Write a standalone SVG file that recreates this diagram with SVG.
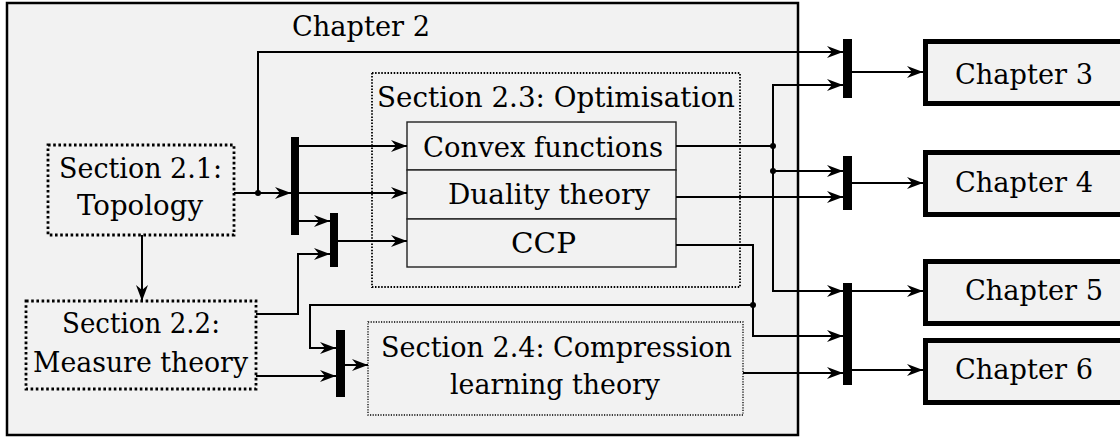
<svg xmlns="http://www.w3.org/2000/svg" width="1120" height="437" viewBox="0 0 1120 437">
  <style>
    text { font-family: "DejaVu Serif", serif; font-size: 28px; fill: #000; }
    .frame { fill: #f2f2f2; stroke: #000; stroke-width: 2.5; }
    .chapter { fill: #f2f2f2; stroke: #000; stroke-width: 5; }
    .sec-thick { fill: #f2f2f2; stroke: #000; stroke-width: 2.8; stroke-dasharray: 2.6 2.6; }
    .sec-mid { fill: #f2f2f2; stroke: #000; stroke-width: 1.8; stroke-dasharray: 1.5 1.6; }
    .sec-thin { fill: #f2f2f2; stroke: #000; stroke-width: 1.3; stroke-dasharray: 1.2 1.4; }
    .cell { fill: #f2f2f2; stroke: #222; stroke-width: 1.4; }
    .bar { fill: #000; }
    .wire { fill: none; stroke: #000; stroke-width: 2; }
    .arrow { fill: none; stroke: #000; stroke-width: 2; marker-end: url(#head); }
    .dot { fill: #000; }
  </style>
  <defs>
    <marker id="head" viewBox="-17 -7 18 14" refX="0" refY="0" markerWidth="18" markerHeight="14" markerUnits="userSpaceOnUse" orient="auto">
      <path d="M0,0 L-16,-6 L-11,0 L-16,6 Z" fill="#000"/>
    </marker>
  </defs>

  <!-- Chapter 2 frame -->
  <g id="chapter2">
    <rect class="frame" x="7" y="3" width="791" height="432"/>
    <text x="292" y="36" textLength="138" lengthAdjust="spacingAndGlyphs">Chapter 2</text>
  </g>

  <!-- Sections inside chapter 2 -->
  <g id="sec21">
    <rect class="sec-thick" x="48" y="145" width="186" height="90"/>
    <text x="59" y="178" textLength="163" lengthAdjust="spacingAndGlyphs">Section 2.1:</text>
    <text x="77" y="215" textLength="126" lengthAdjust="spacingAndGlyphs">Topology</text>
  </g>
  <g id="sec22">
    <rect class="sec-thick" x="26" y="301" width="230" height="88"/>
    <text x="62" y="333" textLength="158" lengthAdjust="spacingAndGlyphs">Section 2.2:</text>
    <text x="33" y="372" textLength="215" lengthAdjust="spacingAndGlyphs">Measure theory</text>
  </g>
  <g id="sec23">
    <rect class="sec-mid" x="372" y="73" width="368" height="214"/>
    <text x="377" y="107" textLength="358" lengthAdjust="spacingAndGlyphs">Section 2.3: Optimisation</text>
  </g>
  <g id="convex">
    <rect class="cell" x="407" y="122" width="269" height="48"/>
    <text x="423" y="157" textLength="240" lengthAdjust="spacingAndGlyphs">Convex functions</text>
  </g>
  <g id="duality">
    <rect class="cell" x="407" y="170" width="269" height="49"/>
    <text x="448" y="204" textLength="202" lengthAdjust="spacingAndGlyphs">Duality theory</text>
  </g>
  <g id="ccp">
    <rect class="cell" x="407" y="219" width="269" height="48"/>
    <text x="511" y="253" textLength="65" lengthAdjust="spacingAndGlyphs">CCP</text>
  </g>
  <g id="sec24">
    <rect class="sec-thin" x="368" y="322" width="375" height="93"/>
    <text x="381" y="357" textLength="351" lengthAdjust="spacingAndGlyphs">Section 2.4: Compression</text>
    <text x="450" y="394" textLength="210" lengthAdjust="spacingAndGlyphs">learning theory</text>
  </g>

  <!-- Later chapters -->
  <g id="chapter3">
    <rect class="chapter" x="925.5" y="41.5" width="300" height="62"/>
    <text x="955" y="84" textLength="138" lengthAdjust="spacingAndGlyphs">Chapter 3</text>
  </g>
  <g id="chapter4">
    <rect class="chapter" x="925.5" y="152.5" width="300" height="62"/>
    <text x="955" y="192" textLength="138" lengthAdjust="spacingAndGlyphs">Chapter 4</text>
  </g>
  <g id="chapter5">
    <rect class="chapter" x="925.5" y="261.5" width="300" height="62"/>
    <text x="965" y="300" textLength="138" lengthAdjust="spacingAndGlyphs">Chapter 5</text>
  </g>
  <g id="chapter6">
    <rect class="chapter" x="925.5" y="340.5" width="300" height="62"/>
    <text x="955" y="379" textLength="138" lengthAdjust="spacingAndGlyphs">Chapter 6</text>
  </g>

  <!-- Join bars -->
  <g id="bars">
    <rect class="bar" x="291" y="137" width="8" height="98"/>
    <rect class="bar" x="330" y="213" width="8" height="54"/>
    <rect class="bar" x="336" y="330" width="9" height="67"/>
    <rect class="bar" x="843" y="39" width="9" height="59"/>
    <rect class="bar" x="843" y="156" width="9" height="54"/>
    <rect class="bar" x="843" y="283" width="9" height="102"/>
  </g>

  <!-- Connectors -->
  <g id="connectors">
    <path class="arrow" d="M234,193 H291"/>
    <path class="arrow" d="M258,193 V52 H843"/>
    <path class="arrow" d="M299,146 H407"/>
    <path class="arrow" d="M299,193 H407"/>
    <path class="arrow" d="M299,221 H330"/>
    <path class="arrow" d="M338,241 H407"/>
    <path class="arrow" d="M256,314 H298 V254 H330"/>
    <path class="arrow" d="M142,235 V301"/>
    <path class="wire" d="M676,146 H773"/>
    <path class="arrow" d="M773,146 V85 H843"/>
    <path class="arrow" d="M773,146 V291 H843"/>
    <path class="arrow" d="M773,171 H843"/>
    <path class="arrow" d="M676,197 H843"/>
    <path class="arrow" d="M676,245 H753 V336 H843"/>
    <path class="arrow" d="M753,305 H310 V348 H336"/>
    <path class="arrow" d="M256,376 H336"/>
    <path class="arrow" d="M345,365 H368"/>
    <path class="arrow" d="M743,373 H843"/>
    <path class="arrow" d="M852,72 H923"/>
    <path class="arrow" d="M852,183 H923"/>
    <path class="arrow" d="M852,291 H923"/>
    <path class="arrow" d="M852,370 H923"/>
    <circle class="dot" cx="258" cy="193" r="3"/>
    <circle class="dot" cx="773" cy="146" r="3"/>
    <circle class="dot" cx="773" cy="171" r="3"/>
    <circle class="dot" cx="753" cy="305" r="3"/>
  </g>
</svg>
